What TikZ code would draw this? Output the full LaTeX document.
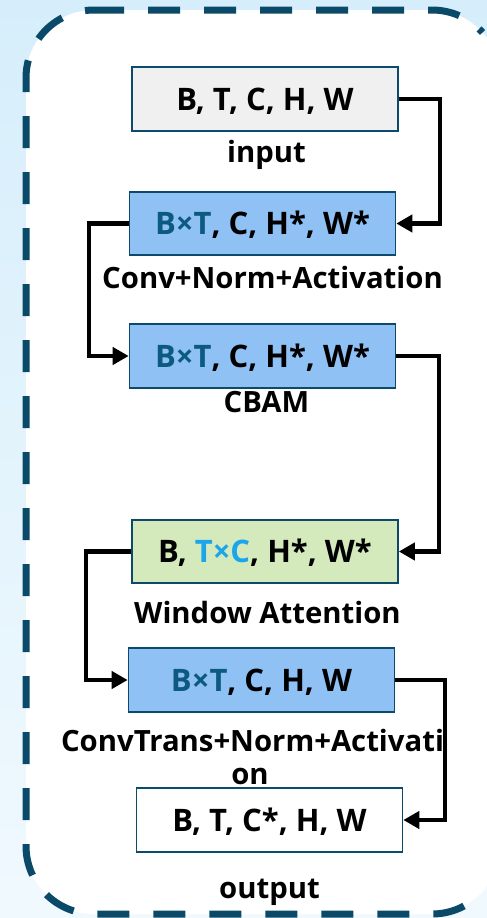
\documentclass[tikz,border=0pt]{standalone}
\usepackage{fontspec}
\setmainfont{Open Sans}
\usetikzlibrary{arrows.meta}
\definecolor{edge}{HTML}{0B4A6B}
\definecolor{dashc}{HTML}{0A4A68}
\definecolor{greyfill}{HTML}{F0F0F0}
\definecolor{bluefill}{HTML}{8FC1F5}
\definecolor{greenfill}{HTML}{D5EABC}
\definecolor{btc}{HTML}{0D5A80}
\definecolor{tcc}{HTML}{1BA6EC}
\definecolor{bgtop}{HTML}{D6EEFB}
\definecolor{bgbot}{HTML}{F0F9FE}
\tikzset{
  box/.style={draw=edge, line width=1.6pt, minimum width=266pt, minimum height=63.5pt,
    inner sep=0pt, text height=22pt, text depth=0pt, font=\fontsize{31}{33}\selectfont\bfseries},
  lbl/.style={anchor=base, inner sep=0pt, font=\fontsize{29.3}{32}\selectfont\bfseries},
  conn/.style={line width=4.3pt, -{Triangle[length=16pt,width=17pt]}},
  frame/.style={dashc, line width=7pt, dash pattern=on 32pt off 24pt},
}
\begin{document}
\begin{tikzpicture}[x=1pt,y=-1pt]
\useasboundingbox (0,0) rectangle (487,918);
\shade[top color=bgtop, bottom color=bgbot] (0,0) rectangle (487,918);
\fill[white] (94,10) -- (432,10) arc[start angle=90, end angle=36, radius=68pt] -- (487,886)
  arc[start angle=-36, end angle=-90, radius=68pt] -- (94,914)
  arc[start angle=270, end angle=180, radius=68pt] -- (26,78)
  arc[start angle=180, end angle=90, radius=68pt] -- cycle;
\draw[frame, dash phase=2pt] (94,10) -- (432,10) arc[start angle=90, end angle=42, radius=68pt];
\draw[frame, dash phase=23pt] (94,10) arc[start angle=90, end angle=180, radius=68pt] -- (26,846)
  arc[start angle=180, end angle=270, radius=68pt] -- (432,914)
  arc[start angle=270, end angle=318, radius=68pt];

\node[box, fill=greyfill] (b1) at (265,99) {B, T, C, H, W};
\node[box, fill=bluefill] (b2) at (262.5,223.5) {\textcolor{btc}{B×T}, C, H*, W*};
\node[box, fill=bluefill] (b3) at (262.5,356) {\textcolor{btc}{B×T}, C, H*, W*};
\node[box, fill=greenfill] (b4) at (265,551.5) {B, \textcolor{tcc}{T×C}, H*, W*};
\node[box, fill=bluefill] (b5) at (261.5,680) {\textcolor{btc}{B×T}, C, H, W};
\node[box, fill=white] (b6) at (269.5,820) {B, T, C*, H, W};

\node[lbl] (l1) at (266.5,162) {input};
\node[lbl] (l2) at (272.5,288) {Conv+Norm+Activation};
\node[lbl] (l3) at (266.5,412) {CBAM};
\node[lbl] (l4) at (267.5,623) {Window Attention};
\node[lbl] (l5) at (252.5,751) {ConvTrans+Norm+Activati};
\node[lbl] (l5b) at (250,784) {on};
\node[lbl] (l6) at (269.5,898) {output};

\draw[conn] (b1.east) -- ++(41,0) |- (b2.east);
\draw[conn] (b2.west) -- ++(-40,0) |- (b3.west);
\draw[conn] (b3.east) -- ++(43,0) |- (b4.east);
\draw[conn] (b4.west) -- ++(-45,0) |- (b5.west);
\draw[conn] (b5.east) -- ++(50,0) |- (b6.east);
\end{tikzpicture}
\end{document}
